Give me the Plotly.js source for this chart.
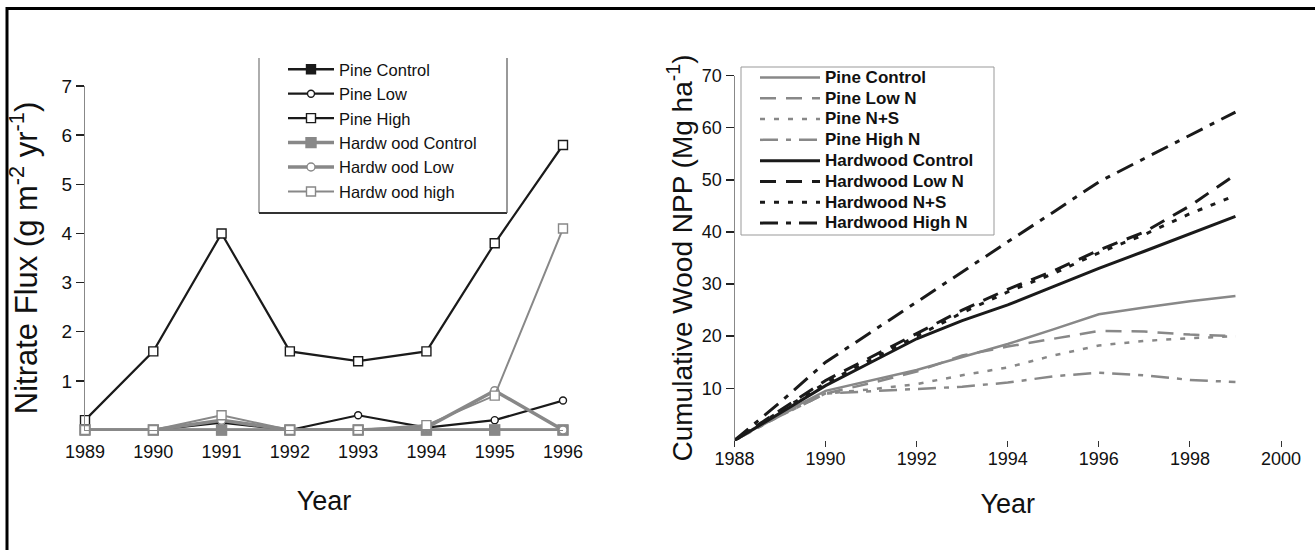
<!DOCTYPE html>
<html><head><meta charset="utf-8">
<script src="https://cdn.plot.ly/plotly-3.0.1.min.js"></script>
<style>html,body{margin:0;padding:0;background:#fff}#chart{width:1315px;height:550px}</style>
</head><body><div id="chart"></div>
<script>
// ---------- Left panel: nitrate flux (g m-2 yr-1) ----------
const fluxYears = [1989, 1990, 1991, 1992, 1993, 1994, 1995, 1996];
const pineControlFlux     = [0, 0, 0, 0, 0, 0, 0, 0];
const pineLowFlux         = [0, 0, 0.15, 0, 0.3, 0.05, 0.2, 0.6];
const pineHighFlux        = [0.2, 1.6, 4.0, 1.6, 1.4, 1.6, 3.8, 5.8];
const hardwoodControlFlux = [0, 0, 0, 0, 0, 0, 0, 0];
const hardwoodLowFlux     = [0, 0, 0.2, 0, 0, 0.05, 0.8, 0];
const hardwoodHighFlux    = [0, 0, 0.3, 0, 0, 0.1, 0.7, 4.1];
const fluxNames = ['Pine Control', 'Pine Low', 'Pine High', 'Hardw ood Control', 'Hardw ood Low', 'Hardw ood high'];
const fluxYTicks = [1, 2, 3, 4, 5, 6, 7];

// ---------- Right panel: cumulative wood NPP (Mg ha-1) ----------
const nppYears = [1988, 1989, 1990, 1991, 1992, 1993, 1994, 1995, 1996, 1997, 1998, 1999];
const pineControlNPP     = [0, 5.0, 9.5, 11.5, 13.5, 16.0, 18.5, 21.3, 24.2, 25.5, 26.7, 27.7];
const pineLowNNPP        = [0, 4.8, 9.0, 11.0, 13.2, 16.3, 18.0, 19.5, 21.0, 20.9, 20.3, 20.0];
const pineNSNPP          = [0, 4.7, 9.0, 9.8, 10.8, 12.5, 14.0, 16.3, 18.2, 19.1, 19.6, 20.0];
const pineHighNNPP       = [0, 4.7, 9.0, 9.4, 9.8, 10.3, 11.1, 12.3, 13.0, 12.5, 11.6, 11.2];
const hardwoodControlNPP = [0, 5.3, 10.5, 15.0, 19.5, 23.0, 26.0, 29.5, 33.0, 36.3, 39.6, 43.0];
const hardwoodLowNNPP    = [0, 5.8, 11.5, 16.0, 20.5, 25.0, 29.0, 32.5, 36.5, 40.0, 45.0, 51.0];
const hardwoodNSNPP      = [0, 5.6, 11.0, 15.5, 20.0, 24.5, 28.5, 32.0, 36.0, 39.5, 43.5, 47.0];
const hardwoodHighNNPP   = [0, 7.3, 15.0, 20.8, 26.5, 32.3, 38.1, 43.8, 49.6, 54.1, 58.6, 63.0];
const nppNames = ['Pine Control', 'Pine Low N', 'Pine N+S', 'Pine High N',
                  'Hardwood Control', 'Hardwood Low N', 'Hardwood N+S', 'Hardwood High N'];
const nppXTicks = [1988, 1990, 1992, 1994, 1996, 1998, 2000];
const nppYTicks = [10, 20, 30, 40, 50, 60, 70];

// ---------- helpers (pixel -> paper, layout only) ----------
const W = 1315, H = 550;
const px = v => v / W;
const py = v => 1 - v / H;

const BLACK = '#1a1a1a', GRAY = '#888888';
const FONT = 'Liberation Sans, Arial, sans-serif';
const NB = '\u00A0';

// ---------- left traces ----------
function fluxTrace(y, i, color, lw, symbol, mfill, msize) {
  return {
    x: fluxYears, y: y, name: fluxNames[i], type: 'scatter', mode: 'lines+markers',
    xaxis: 'x', yaxis: 'y', legend: 'legend', legendgroup: 'f' + i, cliponaxis: false,
    line: {color: color, width: lw},
    marker: {symbol: symbol, size: msize, color: mfill, line: {color: color, width: 1.4}}
  };
}
const leftTraces = [
  fluxTrace(pineControlFlux, 0, BLACK, 2.5, 'square', BLACK, 9),
  fluxTrace(pineLowFlux, 1, BLACK, 2.2, 'circle', '#fff', 7),
  fluxTrace(pineHighFlux, 2, BLACK, 2.2, 'square', '#fff', 9),
  fluxTrace(hardwoodControlFlux, 3, GRAY, 3.5, 'square', GRAY, 10),
  fluxTrace(hardwoodLowFlux, 4, GRAY, 3.5, 'circle', '#fff', 8),
  fluxTrace(hardwoodHighFlux, 5, GRAY, 2, 'square', '#fff', 9)
];

// ---------- right traces ----------
const nppSeries = [pineControlNPP, pineLowNNPP, pineNSNPP, pineHighNNPP,
                   hardwoodControlNPP, hardwoodLowNNPP, hardwoodNSNPP, hardwoodHighNNPP];
const nppDash = ['solid', '16px,10px', '5px,9px', '18px,8px,5px,8px',
                 'solid', '16px,10px', '5px,9px', '18px,8px,5px,8px'];
const rightTraces = nppSeries.map((y, i) => ({
  x: nppYears, y: y, name: '<span style="font-size:17px">' + nppNames[i] + '</span>',
  type: 'scatter', mode: 'lines', xaxis: 'x2', yaxis: 'y2',
  legend: 'legend2', legendgroup: 'n' + i,
  line: {color: i < 4 ? GRAY : BLACK, width: i < 4 ? 2.5 : 3, dash: nppDash[i]}
}));

const tickFont = {family: FONT, size: 18, color: '#111'};
const yTickFont = {family: FONT, size: 19, color: '#111'};

const layout = {
  width: W, height: H,
  margin: {l: 0, r: 0, t: 0, b: 0},
  paper_bgcolor: '#fff', plot_bgcolor: 'rgba(0,0,0,0)',
  font: {family: FONT, color: '#111', size: 16},
  showlegend: true,
  xaxis: {
    domain: [px(85), px(563)], range: [1989, 1996], anchor: 'y',
    tickvals: fluxYears, ticks: '', ticklabelstandoff: 5, tickfont: tickFont,
    showline: true, linecolor: GRAY, linewidth: 1, showgrid: false, zeroline: false,
    title: {text: 'Year', font: {family: FONT, size: 27, color: '#111'}, standoff: 30}
  },
  yaxis: {
    domain: [py(430), py(86)], range: [0, 7], anchor: 'x',
    tickvals: fluxYTicks, ticks: 'outside', ticklen: 8, tickwidth: 1.5, tickcolor: '#222',
    tickfont: yTickFont, showline: true, linecolor: GRAY, linewidth: 1,
    showgrid: false, zeroline: false,
    title: {text: NB + NB + NB + NB + 'Nitrate Flux (g m<sup>-2</sup> yr<sup>-1</sup>)', font: {family: FONT, size: 31, color: '#111'}, standoff: 14}
  },
  xaxis2: {
    domain: [px(734.5), px(1281)], range: [1988, 2000], anchor: 'y2',
    tickvals: nppXTicks, ticks: 'outside', ticklen: 6, tickwidth: 1, tickcolor: '#333',
    ticklabelstandoff: -4,
    tickfont: tickFont, showline: false, showgrid: false, zeroline: false,
    title: {text: 'Year', font: {family: FONT, size: 27, color: '#111'}, standoff: 26}
  },
  yaxis2: {
    domain: [py(440.4), py(75.6)], range: [0, 70], anchor: 'x2',
    tickvals: nppYTicks, ticks: 'outside', ticklen: 8, tickwidth: 1.5, tickcolor: '#222',
    tickfont: tickFont, showline: true, linecolor: GRAY, linewidth: 1,
    showgrid: false, zeroline: false,
    title: {text: 'Cumulative Wood NPP (Mg ha<sup>-1</sup>)', font: {family: FONT, size: 28, color: '#111'}, standoff: 1}
  },
  legend: {
    x: px(283), y: py(52), xanchor: 'left', yanchor: 'top',
    bgcolor: 'rgba(255,255,255,0)', borderwidth: 0,
    font: {family: FONT, size: 16.5, color: '#111'},
    itemwidth: 46, tracegroupgap: 0, traceorder: 'normal'
  },
  legend2: {
    x: px(755), y: py(62), xanchor: 'left', yanchor: 'top',
    bgcolor: 'rgba(255,255,255,0)', borderwidth: 0,
    font: {family: FONT, size: 13.7, color: '#111', weight: 'bold'},
    itemwidth: 60, tracegroupgap: 0, traceorder: 'normal'
  },
  shapes: [
    // outer frame
    {type: 'line', xref: 'paper', yref: 'paper', x0: px(6), x1: 1, y0: py(8.5), y1: py(8.5), line: {color: '#000', width: 3}},
    {type: 'line', xref: 'paper', yref: 'paper', x0: px(7), x1: px(7), y0: py(7), y1: 0, line: {color: '#000', width: 3}},
    // left legend box (open at top)
    {type: 'line', xref: 'paper', yref: 'paper', x0: px(259), x1: px(259), y0: py(58), y1: py(213), line: {color: '#777', width: 1.2}},
    {type: 'line', xref: 'paper', yref: 'paper', x0: px(259), x1: px(507), y0: py(213), y1: py(213), line: {color: '#333', width: 2}},
    {type: 'line', xref: 'paper', yref: 'paper', x0: px(507), x1: px(507), y0: py(58), y1: py(213), line: {color: '#555', width: 1.2}},
    // right legend box
    {type: 'rect', xref: 'paper', yref: 'paper', x0: px(741), x1: px(994), y0: py(235), y1: py(67), line: {color: '#999', width: 1}}
  ]
};

Plotly.newPlot('chart', leftTraces.concat(rightTraces), layout, {displayModeBar: false, staticPlot: true});
</script>
</body></html>
